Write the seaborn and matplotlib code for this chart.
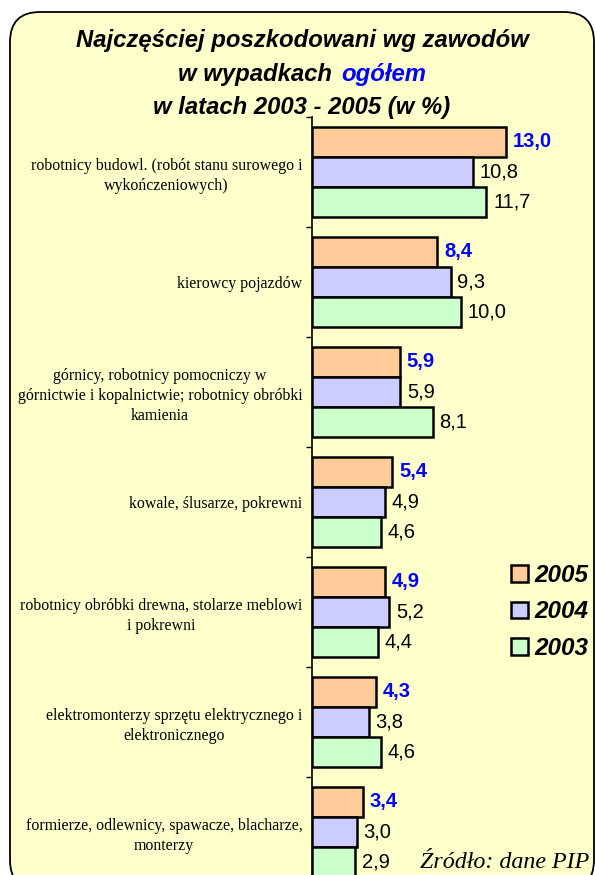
import pandas as pd
import matplotlib
matplotlib.use("Agg")
import matplotlib.pyplot as plt
import seaborn as sns
from matplotlib.patches import FancyBboxPatch, Patch

# --- dane ---
zawody = [
    "robotnicy budowl. (robót stanu surowego i\nwykończeniowych)",
    "kierowcy pojazdów",
    "górnicy, robotnicy pomocniczy w\ngórnictwie i kopalnictwie; robotnicy obróbki\nkamienia",
    "kowale, ślusarze, pokrewni",
    "robotnicy obróbki drewna, stolarze meblowi\ni pokrewni",
    "elektromonterzy sprzętu elektrycznego i\nelektronicznego",
    "formierze, odlewnicy, spawacze, blacharze,\nmonterzy",
]
lata = ["2005", "2004", "2003"]
v2005 = [13.0, 8.4, 5.9, 5.4, 4.9, 4.3, 3.4]
v2004 = [10.8, 9.3, 5.9, 4.9, 5.2, 3.8, 3.0]
v2003 = [11.7, 10.0, 8.1, 4.6, 4.4, 4.6, 2.9]
kolory = ["#FFCC99", "#CCCCFF", "#CCFFCC"]

df = pd.DataFrame({
    "zawod": zawody * 3,
    "rok": [lata[0]] * 7 + [lata[1]] * 7 + [lata[2]] * 7,
    "proc": v2005 + v2004 + v2003,
})

sns.set_style("white")
plt.rcParams["font.family"] = ["Liberation Sans", "DejaVu Sans"]
plt.rcParams["text.color"] = "black"
plt.rcParams["ytick.color"] = "black"
plt.rcParams["xtick.color"] = "black"

W, H = 595, 875
fig = plt.figure(figsize=(W / 100, H / 100), dpi=100)
fig.patch.set_facecolor("white")

# tlo - zaokraglona ramka
tlo = FancyBboxPatch((0.10, -0.15), 5.84, 8.78,
                     boxstyle="round,pad=0,rounding_size=0.3",
                     transform=fig.dpi_scale_trans,
                     facecolor="#FFFFCC", edgecolor="black", linewidth=1.3, zorder=0)
fig.add_artist(tlo)

ax_left, ax_top = 312 / W, 1 - 117 / H
ax_h = 770 / H
ax = fig.add_axes([ax_left, ax_top - ax_h, 1 - ax_left, ax_h])
ax.set_facecolor("none")

sns.barplot(data=df, x="proc", y="zawod", hue="rok", hue_order=lata,
            palette=kolory, orient="h", width=0.82, edgecolor="black",
            linewidth=1.8, saturation=1, legend=False, ax=ax)

ax.set_xlim(0, 19.0)
ax.set_ylim(6.5, -0.5)
ax.set_xlabel("")
ax.set_ylabel("")
ax.set_xticks([])
for s in ["top", "right", "bottom"]:
    ax.spines[s].set_visible(False)
ax.spines["left"].set_color("black")
ax.spines["left"].set_linewidth(1.2)

ax.set_yticks(range(7))
ax.set_yticklabels(zawody, fontfamily="Liberation Serif", fontsize=11.4,
                   multialignment="center", linespacing=1.35, color="black")
ax.set_yticks([i - 0.5 for i in range(8)], minor=True)
ax.tick_params(axis="y", which="major", length=0, pad=7)
ax.tick_params(axis="y", which="minor", length=4, width=1, color="black",
               direction="out", left=True)

# etykiety wartosci
for i, cont in enumerate(ax.containers):
    etyk = [f"{b.get_width():.1f}".replace(".", ",") for b in cont]
    if i == 0:
        ax.bar_label(cont, labels=etyk, padding=5, fontsize=14.5,
                     fontweight="bold", color="#0000FF")
    else:
        ax.bar_label(cont, labels=etyk, padding=5, fontsize=14.5, color="black")

# tytul
cx = 302 / W
tfont = dict(fontsize=17.2, fontweight="bold", fontstyle="italic", color="black")
fig.text(cx, 1 - 47 / H, "Najczęściej poszkodowani wg zawodów", ha="center",
         va="baseline", **tfont)
fig.text(cx, 1 - 114 / H, "w latach 2003 - 2005 (w %)", ha="center",
         va="baseline", **tfont)
ta = fig.text(0, 1 - 81 / H, "w wypadkach", ha="left", va="baseline", **tfont)
tfont_b = dict(tfont, color="#0000FF")
tb = fig.text(0, 1 - 81 / H, "ogółem", ha="left", va="baseline", **tfont_b)
fig.canvas.draw()
r = fig.canvas.get_renderer()
wa = ta.get_window_extent(r).width
wb = tb.get_window_extent(r).width
gap = 9
start = 302 - (wa + gap + wb) / 2
ta.set_x(start / W)
tb.set_x((start + wa + gap) / W)

# legenda
uchwyty = [Patch(facecolor=c, edgecolor="black", linewidth=1.8) for c in kolory]
fig.legend(uchwyty, lata, loc="center left",
           bbox_to_anchor=(511 / W, 1 - 612 / H), frameon=False,
           prop=dict(size=17.5, weight="bold", style="italic"),
           handlelength=0.68, handleheight=0.68, handletextpad=0.3,
           labelspacing=0.55, borderpad=0, borderaxespad=0)

# zrodlo
fig.text(589 / W, 1 - 868 / H, "Źródło: dane PIP", ha="right", va="baseline",
         fontfamily="Liberation Serif", fontstyle="italic", fontsize=17.3)

fig.savefig("out.png", dpi=100, facecolor="white")
